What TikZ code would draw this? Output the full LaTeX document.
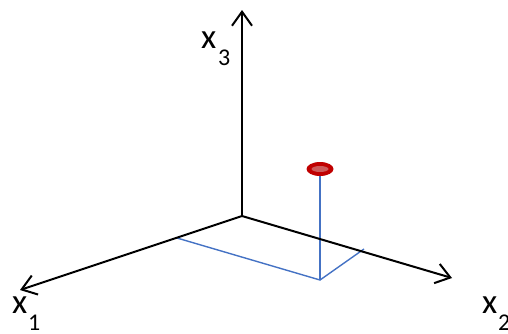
\documentclass[tikz,border=0pt]{standalone}
\usepackage{fontspec}
\setmainfont{Carlito}
\usetikzlibrary{arrows.meta}
\definecolor{offblue}{RGB}{68,114,196}
\definecolor{dred}{RGB}{192,0,0}
\definecolor{lred}{RGB}{205,90,90}
\begin{document}
\begin{tikzpicture}[x=1pt,y=-1pt,
  axis/.style={line width=2pt,-{Straight Barb[length=14pt,width=20pt,line width=2pt]}},
  proj/.style={offblue,line width=1.4pt},
  lbl/.style={inner sep=0pt,font=\fontsize{35}{36}\selectfont},
  sub/.style={inner sep=0pt,font=\fontsize{24}{26}\selectfont}]
\useasboundingbox (0,0) rectangle (508,333);
\coordinate (O) at (242,216);
\coordinate (X1) at (20,290);
\coordinate (X2) at (452,278);
\coordinate (X3) at (242,10);
\coordinate (A) at (177,238);
\coordinate (B) at (320,280);
\coordinate (C) at (364,249);
\coordinate (P) at (320,169);
\draw[proj] (A) -- (B) -- (C);
\draw[proj] (B) -- (P);
\draw[axis] (O) -- (X1);
\draw[axis] (O) -- (X2);
\draw[axis] (O) -- (X3);
\fill[dred] (P) ellipse [x radius=13.5, y radius=7];
\fill[lred] (P) ellipse [x radius=8.5, y radius=3];
\node[lbl,anchor=base west] (L3) at (201,48) {x};
\node[sub,anchor=base west] (L3s) at (218,65) {3};
\node[lbl,anchor=base west] (L1) at (12,313) {x};
\node[sub,anchor=base west] (L1s) at (28,330) {1};
\node[lbl,anchor=base west] (L2) at (482,313) {x};
\node[sub,anchor=base west] (L2s) at (498,330) {2};
\end{tikzpicture}
\end{document}
